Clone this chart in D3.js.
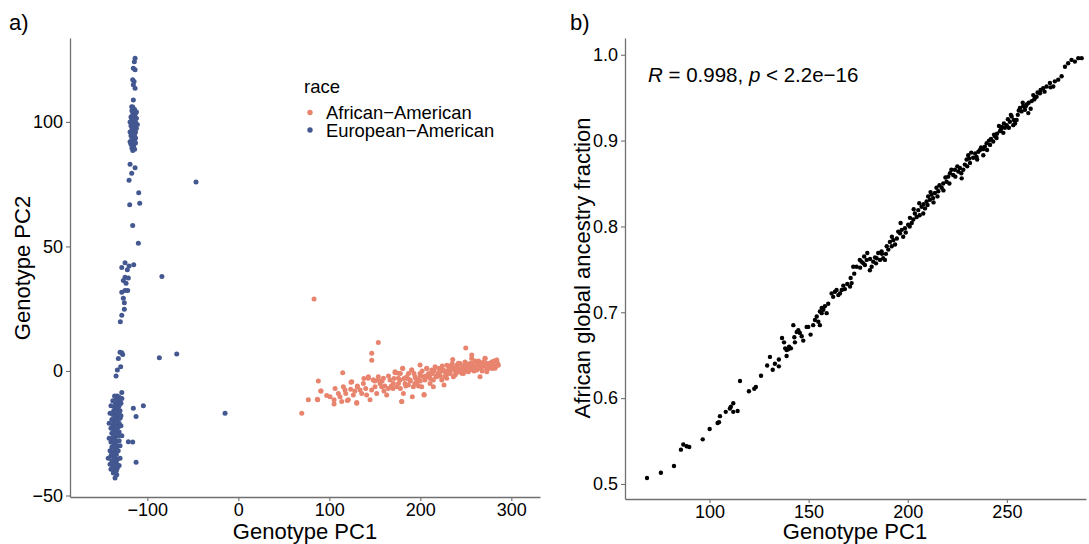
<!DOCTYPE html>
<html><head><meta charset="utf-8">
<script src="https://cdn.jsdelivr.net/npm/d3@7"></script>
<style>body{margin:0;background:#fff}svg{display:block}text{font-family:"Liberation Sans",Arial,sans-serif;fill:#000}</style>
</head><body><svg id="c" width="1089" height="544"></svg>
<script>
// ---------- DATA ----------
const raceLabels = ["African\u2212American", "European\u2212American"];
const raceColors = ["#E8846E", "#435790"];

// Panel a: African-American samples [PC1, PC2]
const aaPC = [
 [83.2,28.9],[153.8,11.4],[146.6,7.1],[146.6,4.3],[249.9,9.2],[69.7,-17],[76.9,-11.6],[87.9,-4],[90.9,-8],[86.8,-11.4],
 [97.1,-9.8],[100.8,-10.3],[105.2,-11.6],[105.2,-13.3],[106.3,-7],[109.9,-9],[111.7,-10.3],[113.6,-12.3],[115.4,-6.3],[117.2,-7.6],
 [120.9,-11.6],[123.5,-7.3],[124.6,-4.3],[126.4,-9.6],[130.1,-13],[130.8,-6],[133.7,-7.6],[135.6,-9],[137.4,-5],[141,-9.6],
 [142.9,-2.9],[144.7,-11.6],[146.5,-7.6],[148.4,-3.6],[150.2,-6.3],[152,-9],[153.9,-3.6],[155.7,-5],[157.5,-6.3],[159.4,-2.9],
 [163,-9.6],[164.9,-7],[166.7,-3.6],[170.4,-5],[172.2,-0.3],[174,-6.3],[175.9,-2.9],[177.7,-3.6],[179.5,-12.3],[180.6,1],
 [181.4,-9],[183.2,-5],[185,-2.3],[186.8,-5.6],[188.7,-3.6],[190.5,0.4],[191.2,-10.3],[192.3,-6.3],[194.2,-2.3],[196,-5],
 [197.8,-3.6],[199.7,-1],[201.5,-6.3],[203.3,-2.3],[204.1,-9.6],[205.2,-3.6],[207,1],[208.8,-2.3],[210.7,-5],[212.5,0.4],
 [214.3,-3.6],[216.2,1.7],[218,-2.3],[219.8,-1],[221.7,1],[223.5,-3.6],[225.3,0.4],[227.1,-2.3],[229,2.3],[230.8,0.4],
 [232.6,-1],[234.5,1.7],[235.6,4.6],[236.3,-2.3],[238.1,0.4],[240,2.3],[241.8,-0.3],[243.6,3],[245.5,1],[247.3,-1],
 [249.1,3.6],[251,1.7],[252.8,-0.3],[254.6,3],[256.4,5],[258.3,1.7],[260.1,0.4],[261.9,3.6],[263.8,2.3],[265.6,-2.3],
 [267.4,1.7],[269.3,3.6],[271.1,5],[272.9,1],[274.8,3],[276.6,1.7],[278.4,3.6],[280.3,2.3],[282.1,1.7],[283.9,4.3],[285.7,2.3],
 [114.7,-0.7],[90.5,-8],[87.2,-11.6],[119.8,-11.9],[130.1,-12.7],[179.6,-12.3],[123.8,-4.5],[130.8,-6.3],[142.9,-2.3],[148.4,-3.6],
 [153.8,-2.3],[172.2,-0.7],[175.8,-0.9],[204.1,-9.4],[256.5,6.4],[226,-5.6],[214.3,-6.3],[199.7,2.4],[190.5,0.4],[180.6,1.1],
 [207,1.1],[271.1,5.1],[284,4.4],[282.1,1.1],[273,-0.3],[262,0.4],[267.5,3.1],[241.8,3.1],[232.6,1.1],[221.6,-0.3],
 [245.5,-0.9],[254.6,0.4],[276.6,1.7],[238.1,-1.6],[229,-2.9],
 [158,-4],[161,-6],[165,-2],[168,-6],[171,-3],[176,-5],[178,-1],[182,-3],[184,-6],[187,-1],
 [189,-4],[193,-1],[195,-3],[198,-6],[200,-2],[202,0],[206,-2],[209,-1],[211,-3],[213,-1],
 [215,0],[217,-2],[220,1],[222,-2],[224,2],[226,0],[228,-1],[231,2],[233,0],[235,3],
 [237,1],[239,-1],[242,1],[244,0],[246,2],[248,1],[250,0],[253,2],[255,1],[257,3],
 [259,0],[262,2],[264,4],[266,1],[268,0],[270,2],[273,3],[275,1],[277,3],[279,1],
 [281,4],[283,2],[285,3],[260,4],[250,3],[240,1],[230,-1],[220,-1],[210,-2],[200,-4],
 [194,-5],[186,-3],[178,-7],[170,-7],[160,-8],[150,-4],[140,-7],[138,-3],[128,-8],[118,-9]
];

// Panel a: European-American samples [PC1, PC2]
const eaPC = [
 [-113.5,125.6],[-114.3,124.2],[-115.4,121.6],[-113.5,121],[-116.1,116.9],[-114.6,116.2],[-115.4,114.9],[-113.5,113.5],[-115.4,108.8],[-117.2,106.1],
 [-116,106],[-114,105],[-117,104.5],[-115,104],[-113,103.5],[-116,103],[-114,102.5],[-118,102],[-115,102],[-112,101.5],
 [-117,101],[-115,100.5],[-113,100],[-116,99.5],[-114,99],[-118,98.5],[-115,98],[-112,97.5],[-117,97],[-115,96.5],
 [-113,96],[-116,95.5],[-114,95],[-118,94.5],[-115,94],[-117,93],[-114,92.5],[-116,92],[-113,91.5],[-118,91],
 [-115,90.5],[-117,89.5],[-114,89],[-116,88.5],[-112,104],[-119,100],[-111,99],[-119,96],[-113,93.5],[-119,92],
 [-119,83],[-113.5,81.6],[-117.2,79.4],[-120.1,76.6],[-109.5,71.6],[-119.4,66.7],[-108.4,67.3],[-116.1,58.4],[-109.9,51.3],
 [-46.5,75.9],[-84,37.9],[-67.7,6.8],[-86.8,5.3],[-14.6,-17],
 [-124.5,43.5],[-128.1,41.6],[-120.1,42.2],[-115,42.7],[-122,40.6],[-124.5,37.6],[-120.9,37.3],[-126.4,36.3],[-123.4,35.2],[-121.6,32.3],
 [-124.5,32.3],[-128.1,31.6],[-126.4,29.2],[-125.3,27.4],[-125.3,24.8],[-128.1,22.4],[-129.7,19.8],
 [-128.1,7.3],[-127.1,6.6],[-130,7.5],[-131.9,5],[-129.3,1.7],[-133,0.4],[-134.4,-2],[-128.1,-8.6],
 [-115.4,-15],[-112.4,-18.3],[-104.4,-14],[-120.9,-28.4],[-116.1,-28.5],[-112.4,-36.6],
 [-133,-10],[-131,-10.5],[-134,-11],[-132,-12],[-130,-12.5],[-135,-13],[-133,-13.5],[-131,-14],[-136,-14.5],[-134,-15],
 [-132,-15.5],[-130,-16],[-137,-16],[-135,-16.5],[-133,-17],[-131,-17.5],[-138,-17.5],[-136,-18],[-134,-18.5],[-132,-19],
 [-130,-19],[-139,-19.5],[-137,-20],[-135,-20],[-133,-20.5],[-131,-21],[-138,-21.5],[-136,-22],[-134,-22],[-132,-22.5],
 [-140,-23],[-137,-23.5],[-135,-24],[-133,-24],[-131,-24.5],[-139,-25],[-136,-25.5],[-134,-26],[-132,-26],[-138,-27],
 [-136,-27.5],[-134,-28],[-131,-28],[-140,-28.5],[-137,-29],[-135,-29.5],[-133,-30],[-139,-30.5],[-136,-31],[-134,-31.5],
 [-132,-32],[-141,-32],[-138,-32.5],[-136,-33],[-134,-33.5],[-140,-34],[-137,-34.5],[-135,-35],[-133,-35.5],[-139,-36],
 [-136,-36.5],[-134,-37],[-141,-37.5],[-138,-38],[-136,-38.5],[-133,-39],[-140,-39.5],[-137,-40],[-135,-41],
 [-129,-13],[-128,-11],[-129,-18],[-129,-22],[-128,-26],[-130,-30],[-130,-35],[-131,-38],[-142,-27],[-143,-35],
 [-142,-21],[-141,-17],[-140,-14],[-138,-12],[-136,-10],[-133,-16],[-135,-19],[-137,-26],[-139,-33],[-135,-38],
 [-134,-40],[-135.5,-43],[-133.6,-41.7],[-137.4,-41]
];

// Panel b: African-American samples [PC1, global ancestry fraction]
const ancestry = [
 [68.5,0.507],[75.5,0.513],[82.1,0.521],[85.6,0.540],[86.8,0.546],[88.5,0.544],[89.8,0.543],[96.6,0.552],[100.1,0.564],[104.1,0.571],
 [104.8,0.572],[105.3,0.579],[108.2,0.584],[110.3,0.588],[110.8,0.590],[112,0.594],[112,0.584],[114.2,0.585],[115.4,0.620],[119.9,0.608],
 [122.6,0.611],[123.4,0.613],[126,0.626],[129.1,0.638],[130.5,0.648],[131.9,0.633],[133,0.640],[135,0.645],[135,0.637],[136.6,0.670],
 [137.6,0.665],[138.2,0.658],[138.9,0.656],[138.9,0.649],[139.7,0.657],[140.2,0.660],[141.1,0.658],[142.3,0.685],[142.8,0.671],[143.1,0.665],
 [144,0.677],[144.8,0.679],[145.6,0.676],[146.5,0.672],[147.3,0.667],[149.8,0.683],[151,0.674],[152.3,0.685],[153.2,0.691],[154.1,0.695],
 [154.9,0.689],[155.7,0.685],[156.6,0.699],[157.4,0.703],[158.2,0.707],[159.1,0.699],[149,0.683],[155.7,0.701],[156.6,0.705],[159.9,0.710],
 [161.6,0.722],[162.4,0.718],[163.3,0.724],[164.1,0.726],[165,0.720],[165.8,0.722],[166.7,0.726],[168.3,0.727],[170.9,0.730],[171.7,0.734],
 [171.2,0.740],[172.5,0.753],[174.2,0.753],[175.8,0.761],[176.7,0.759],[177.6,0.757],[178.4,0.755],[179.3,0.761],[179.6,0.769],[180.9,0.749],
 [181.8,0.753],[182.6,0.759],[183.5,0.764],[184.3,0.763],[185.1,0.769],[186,0.761],[186.8,0.771],[187.6,0.763],[188.5,0.761],[189.4,0.777],
 [190.2,0.773],[191,0.782],[191.9,0.777],[192.7,0.784],[193.6,0.779],[195.2,0.794],[196.1,0.792],[196.4,0.804],[197.7,0.788],[198.6,0.798],
 [200.2,0.802],[201.1,0.810],[202,0.804],[202.8,0.808],[203.6,0.815],[204.5,0.811],[205.3,0.819],[205.8,0.827],[207,0.823],[207.8,0.815],
 [208.7,0.821],[209.5,0.829],[210.3,0.835],[211.2,0.831],[212,0.837],[212.8,0.833],[213.7,0.839],[214.5,0.845],[215.4,0.841],[217.1,0.845],
 [217.9,0.850],[219.6,0.852],[220.4,0.858],[221.3,0.862],[222.9,0.860],[223.8,0.866],[225.5,0.864],[226.3,0.868],[227.2,0.856],[228.8,0.872],
 [229.7,0.878],[230.5,0.883],[231.4,0.874],[233,0.880],[234.7,0.881],[235.6,0.887],[236.4,0.889],[238.1,0.883],[238.9,0.893],[239.8,0.897],
 [241.5,0.895],[243.1,0.899],[244,0.905],[244.8,0.903],[246.5,0.911],[247.4,0.916],[248.2,0.909],[249,0.915],[249.9,0.918],[251.5,0.922],
 [252.4,0.928],[253.2,0.918],[254.1,0.920],[254.9,0.924],[256.6,0.938],[257.4,0.934],[258.2,0.940],[259.1,0.936],[260,0.942],[260.8,0.932],
 [262.5,0.946],[263.3,0.953],[264.1,0.950],[265,0.951],[266.7,0.955],[268.3,0.961],[270,0.963],[271.7,0.967],[273.4,0.963],[274.2,0.969],
 [275.9,0.971],[277.6,0.975],[279.3,0.986],[280.9,0.990],[282.6,0.994],[284.3,0.992],[286,0.996],[287.7,0.996],
 [167.5,0.731],[169.5,0.733],[173,0.745],[176,0.752],[178,0.765],[181,0.762],[184,0.757],[187,0.768],[189,0.768],[192,0.788],
 [194.5,0.786],[197,0.796],[199,0.793],[201,0.800],[203,0.820],[206,0.813],[208,0.826],[210,0.825],[211.5,0.840],[213,0.828],
 [215,0.835],[216,0.848],[218,0.842],[219,0.857],[221,0.850],[222,0.866],[224,0.858],[225,0.870],[227,0.862],[228,0.866],
 [230,0.870],[231,0.879],[232,0.886],[234,0.885],[235,0.878],[237,0.892],[238,0.890],[240,0.889],[241,0.900],[242,0.902],
 [243.5,0.907],[245,0.908],[246,0.917],[247,0.913],[248.5,0.920],[250.5,0.925],[251,0.915],[252,0.930],[253.5,0.924],[255.5,0.930],
 [256,0.935],[258,0.944],[259.5,0.940],[261,0.944],[262,0.937],[263.8,0.948],[265.5,0.956],[267,0.959],[269,0.957],[272,0.962]
];

const xTicksA = [-100, 0, 100, 200, 300];
const yTicksA = [-50, 0, 50, 100];
const xTicksB = [100, 150, 200, 250];
const yTicksB = [0.5, 0.6, 0.7, 0.8, 0.9, 1.0];
const corText = {R: "0.998", p: "2.2e\u221216"};

// ---------- DRAW ----------
const svg = d3.select("#c");
const axisCol = "#707070";
const fmtMinus = d => String(d).replace("-", "\u2212");

function styleAxis(g) {
  g.select(".domain").attr("stroke", axisCol).attr("stroke-width", 1.3);
  g.selectAll(".tick line").attr("stroke", axisCol).attr("stroke-width", 1.1);
  g.selectAll(".tick text").attr("font-size", 18).attr("fill", "#000")
   .attr("font-family", '"Liberation Sans",Arial,sans-serif');
}

// Panel a
const ax = d3.scaleLinear().domain([-185, 331.5]).range([70, 540]);
const ay = d3.scaleLinear().domain([-50.6, 133.7]).range([497, 38]);
const gA = svg.append("g");
gA.append("g").attr("transform", "translate(0,497)")
  .call(d3.axisBottom(ax).tickValues(xTicksA).tickFormat(fmtMinus).tickSize(4).tickPadding(2).tickSizeOuter(0))
  .call(styleAxis);
gA.append("g").attr("transform", "translate(70,0)")
  .call(d3.axisLeft(ay).tickValues(yTicksA).tickFormat(fmtMinus).tickSize(4).tickPadding(3).tickSizeOuter(0))
  .call(styleAxis);
gA.selectAll("circle.aa").data(aaPC).join("circle").attr("class","aa")
  .attr("cx", d => ax(d[0])).attr("cy", d => ay(d[1])).attr("r", 2.5).attr("fill", raceColors[0]);
gA.selectAll("circle.ea").data(eaPC).join("circle").attr("class","ea")
  .attr("cx", d => ax(d[0])).attr("cy", d => ay(d[1])).attr("r", 2.5).attr("fill", raceColors[1]);
gA.append("text").attr("x", 305).attr("y", 538.5).attr("text-anchor","middle").attr("font-size", 22).text("Genotype PC1");
gA.append("text").attr("transform","translate(30,268) rotate(-90)").attr("text-anchor","middle").attr("font-size", 22).text("Genotype PC2");
gA.append("text").attr("x", 9).attr("y", 30).attr("font-size", 22).text("a)");
// legend
gA.append("text").attr("x", 304).attr("y", 93).attr("font-size", 18.5).text("race");
raceLabels.forEach((lab, i) => {
  gA.append("circle").attr("cx", 310).attr("cy", 112.5 + i*17.5).attr("r", 2.7).attr("fill", raceColors[i]);
  gA.append("text").attr("x", 326).attr("y", 119 + i*17.5).attr("font-size", 18.4).text(lab);
});

// Panel b
const bx = d3.scaleLinear().domain([57.4, 289.9]).range([625, 1086]);
const by = d3.scaleLinear().domain([0.4825, 1.0195]).range([499, 38]);
const gB = svg.append("g");
gB.append("g").attr("transform", "translate(0,499)")
  .call(d3.axisBottom(bx).tickValues(xTicksB).tickSize(4).tickPadding(2).tickSizeOuter(0))
  .call(styleAxis);
gB.append("g").attr("transform", "translate(625,0)")
  .call(d3.axisLeft(by).tickValues(yTicksB).tickFormat(d3.format(".1f")).tickSize(4).tickPadding(3).tickSizeOuter(0))
  .call(styleAxis);
gB.selectAll("circle.pt").data(ancestry).join("circle").attr("class","pt")
  .attr("cx", d => bx(d[0])).attr("cy", d => by(d[1])).attr("r", 2.2).attr("fill", "#000");
gB.append("text").attr("x", 855).attr("y", 538.5).attr("text-anchor","middle").attr("font-size", 22).text("Genotype PC1");
gB.append("text").attr("transform","translate(590,268) rotate(-90)").attr("text-anchor","middle").attr("font-size", 22).text("African global ancestry fraction");
gB.append("text").attr("x", 570).attr("y", 30).attr("font-size", 22).text("b)");
const ann = gB.append("text").attr("x", 648).attr("y", 82).attr("font-size", 20.5);
ann.append("tspan").attr("font-style","italic").text("R");
ann.append("tspan").text(" = " + corText.R + ", ");
ann.append("tspan").attr("font-style","italic").text("p");
ann.append("tspan").text(" < " + corText.p);
</script></body></html>
